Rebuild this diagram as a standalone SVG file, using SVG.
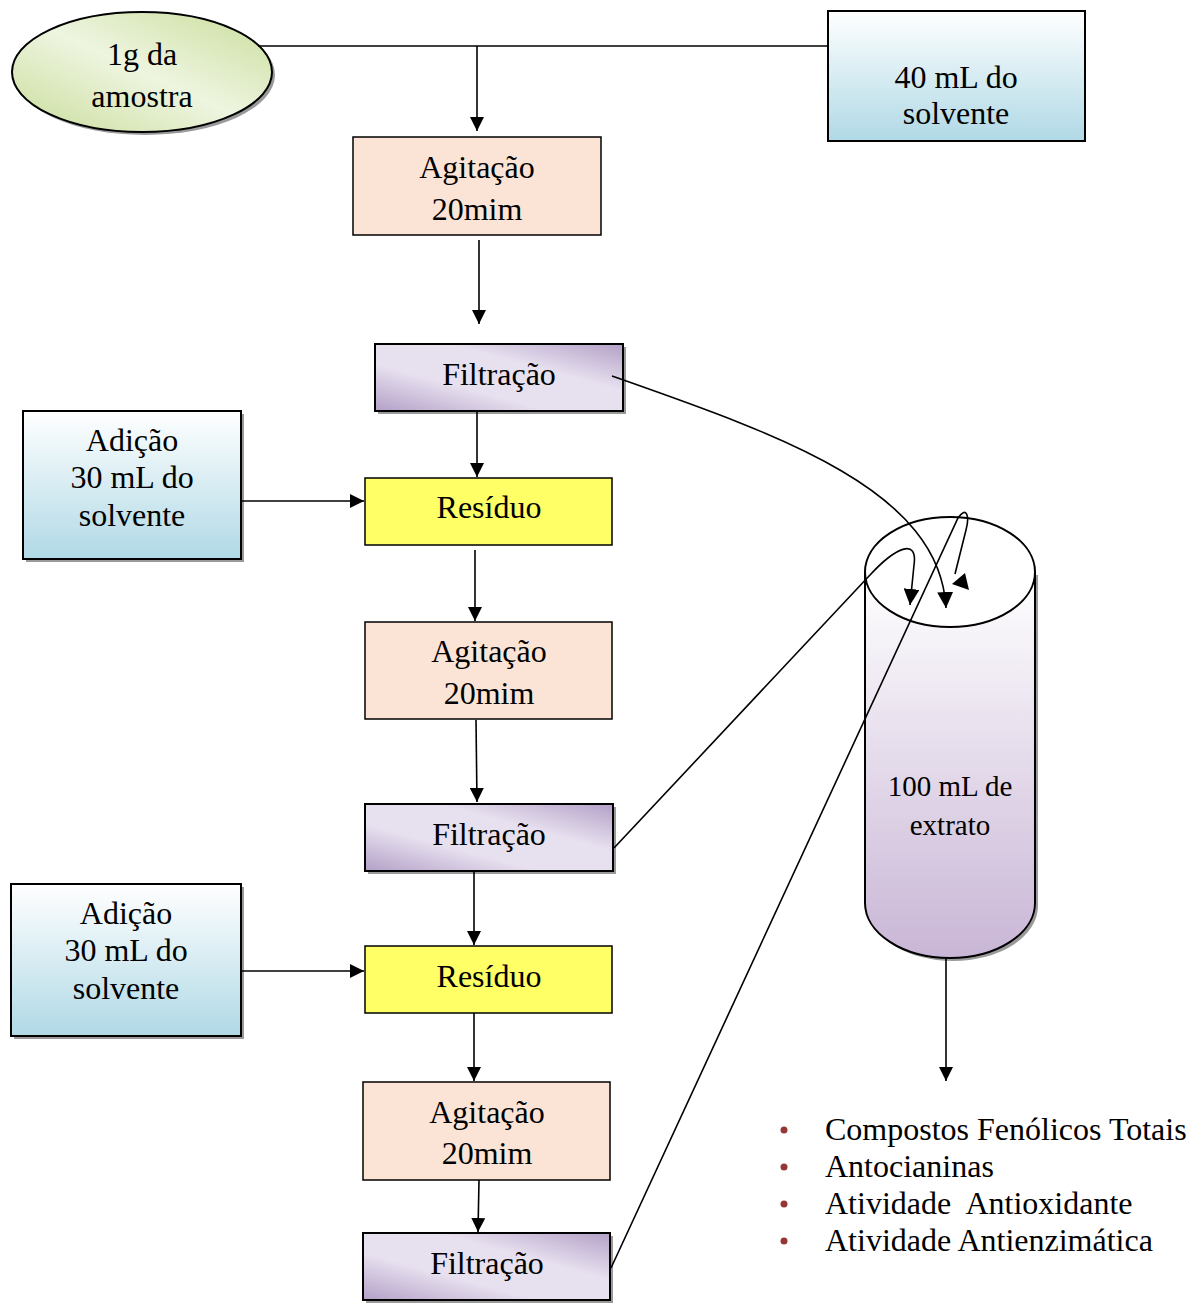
<svg xmlns="http://www.w3.org/2000/svg" width="1204" height="1304" viewBox="0 0 1204 1304">
<defs>
<linearGradient id="gGreen" x1="0" y1="1" x2="1" y2="0">
<stop offset="0" stop-color="#c9dd9a"/><stop offset="0.5" stop-color="#eef5e0"/><stop offset="1" stop-color="#c9dd9a"/>
</linearGradient>
<linearGradient id="gBlue" x1="0" y1="0" x2="0" y2="1">
<stop offset="0" stop-color="#ffffff"/><stop offset="1" stop-color="#b0d9e6"/>
</linearGradient>
<linearGradient id="gPurple" x1="0" y1="1" x2="1" y2="0">
<stop offset="0" stop-color="#b3a0c7"/><stop offset="0.35" stop-color="#e7e0ef"/><stop offset="0.65" stop-color="#e7e0ef"/><stop offset="1" stop-color="#b3a0c7"/>
</linearGradient>
<linearGradient id="gCyl" x1="0" y1="0" x2="0" y2="1">
<stop offset="0" stop-color="#ffffff"/><stop offset="1" stop-color="#c9b6d6"/>
</linearGradient>
<marker id="ah" viewBox="0 0 12 12" refX="12" refY="6" markerWidth="14" markerHeight="14" orient="auto" markerUnits="userSpaceOnUse">
<path d="M0,0 L12,6 L0,12 z" fill="#000"/>
</marker>
<marker id="ahL" viewBox="0 0 12 12" refX="12" refY="6" markerWidth="16" markerHeight="16" orient="auto" markerUnits="userSpaceOnUse">
<path d="M0,0 L12,6 L0,12 z" fill="#000"/>
</marker>
</defs>
<style>
.t{font-family:"Liberation Serif","Times New Roman",serif;font-size:32px;fill:#000;text-anchor:middle}
.ts{font-family:"Liberation Serif","Times New Roman",serif;font-size:29px;fill:#000;text-anchor:middle}
.l{font-family:"Liberation Serif","Times New Roman",serif;font-size:32px;fill:#000}
.b{stroke:#000;stroke-width:2}
.sh{fill:#9a9a9a}
.c{fill:none;stroke:#000;stroke-width:1.6}
.bul{fill:#953735}
</style>
<rect width="1204" height="1304" fill="#fff"/>

<g id="n-amostra">
<ellipse cx="145" cy="75" rx="130" ry="60" class="sh"/>
<ellipse cx="142" cy="72" rx="130" ry="60" fill="url(#gGreen)" class="b"/>
<text class="t" x="142" y="65">1g da</text>
<text class="t" x="142" y="107">amostra</text>
</g>

<g id="n-solvente">
<rect x="828" y="11" width="257" height="130" fill="url(#gBlue)" class="b"/>
<text class="t" x="956" y="88">40 mL do</text>
<text class="t" x="956" y="124">solvente</text>
</g>

<g id="n-agit1">
<rect x="353" y="137" width="248" height="98" fill="#fbe4d5" stroke="#000" stroke-width="1.5"/>
<text class="t" x="477" y="178">Agitação</text>
<text class="t" x="477" y="220">20mim</text>
</g>

<g id="n-filt1">
<rect x="378" y="347" width="248" height="67" class="sh"/>
<rect x="375" y="344" width="248" height="67" fill="url(#gPurple)" class="b"/>
<text class="t" x="499" y="385">Filtração</text>
</g>

<g id="n-adicao1">
<rect x="26" y="414" width="218" height="148" class="sh"/>
<rect x="23" y="411" width="218" height="148" fill="url(#gBlue)" class="b"/>
<text class="t" x="132" y="451">Adição</text>
<text class="t" x="132" y="488">30 mL do</text>
<text class="t" x="132" y="526">solvente</text>
</g>

<g id="n-residuo1">
<rect x="365" y="478" width="247" height="67" fill="#ffff66" stroke="#000" stroke-width="1.5"/>
<text class="t" x="489" y="518">Resíduo</text>
</g>

<g id="n-agit2">
<rect x="365" y="622" width="247" height="97" fill="#fbe4d5" stroke="#000" stroke-width="1.5"/>
<text class="t" x="489" y="662">Agitação</text>
<text class="t" x="489" y="704">20mim</text>
</g>

<g id="n-filt2">
<rect x="368" y="807" width="248" height="67" class="sh"/>
<rect x="365" y="804" width="248" height="67" fill="url(#gPurple)" class="b"/>
<text class="t" x="489" y="845">Filtração</text>
</g>

<g id="n-adicao2">
<rect x="14" y="887" width="230" height="152" class="sh"/>
<rect x="11" y="884" width="230" height="152" fill="url(#gBlue)" class="b"/>
<text class="t" x="126" y="924">Adição</text>
<text class="t" x="126" y="961">30 mL do</text>
<text class="t" x="126" y="999">solvente</text>
</g>

<g id="n-residuo2">
<rect x="365" y="946" width="247" height="67" fill="#ffff66" stroke="#000" stroke-width="1.5"/>
<text class="t" x="489" y="987">Resíduo</text>
</g>

<g id="n-agit3">
<rect x="363" y="1082" width="247" height="98" fill="#fbe4d5" stroke="#000" stroke-width="1.5"/>
<text class="t" x="487" y="1123">Agitação</text>
<text class="t" x="487" y="1164">20mim</text>
</g>

<g id="n-filt3">
<rect x="366" y="1236" width="247" height="67" class="sh"/>
<rect x="363" y="1233" width="247" height="67" fill="url(#gPurple)" class="b"/>
<text class="t" x="487" y="1274">Filtração</text>
</g>

<g id="n-extrato">
<path d="M868,575 L868,906 A85,55 0 0 0 1038,906 L1038,575 z" class="sh"/>
<path d="M865,572 L865,903 A85,55 0 0 0 1035,903 L1035,572 z" fill="url(#gCyl)" class="b"/>
<ellipse cx="950" cy="572" rx="85" ry="55" fill="#fff" class="b"/>
<text class="ts" x="950" y="796">100 mL de</text>
<text class="ts" x="950" y="835">extrato</text>
</g>

<g id="n-lista">
<circle class="bul" cx="784" cy="1130" r="3.5"/>
<circle class="bul" cx="784" cy="1167" r="3.5"/>
<circle class="bul" cx="784" cy="1204" r="3.5"/>
<circle class="bul" cx="784" cy="1241" r="3.5"/>
<text class="l" x="825" y="1140">Compostos Fenólicos Totais</text>
<text class="l" x="825" y="1177">Antocianinas</text>
<text class="l" x="825" y="1214" xml:space="preserve">Atividade  Antioxidante</text>
<text class="l" x="825" y="1251">Atividade Antienzimática</text>
</g>

<g id="connectors">
<path class="c" d="M258,46 L828,46"/>
<path class="c" d="M477,46 L477,131" marker-end="url(#ah)"/>
<path class="c" d="M479,240 L479,324" marker-end="url(#ah)"/>
<path class="c" d="M477,411 L477,477" marker-end="url(#ah)"/>
<path class="c" d="M241,501 L364,501" marker-end="url(#ah)"/>
<path class="c" d="M475,550 L475,621" marker-end="url(#ah)"/>
<path class="c" d="M476,720 L477,802" marker-end="url(#ah)"/>
<path class="c" d="M474,872 L474,945" marker-end="url(#ah)"/>
<path class="c" d="M241,971 L364,971" marker-end="url(#ah)"/>
<path class="c" d="M474,1013 L474,1081" marker-end="url(#ah)"/>
<path class="c" d="M479,1180 L478,1232" marker-end="url(#ah)"/>
<path class="c" d="M946,958 L946,1081" marker-end="url(#ah)"/>
<path class="c" d="M612,376 C780,435 940,490 946,608" marker-end="url(#ahL)"/>
<path class="c" d="M614,848 L870,575 C895,548 918,537 914,565 L910,605" marker-end="url(#ahL)"/>
<path class="c" d="M611,1268 L958,518 C966,506 970,515 966,530 L955,574"/>
<path d="M952,584 L969,590 L965,573 z" fill="#000"/>
</g>
</svg>
